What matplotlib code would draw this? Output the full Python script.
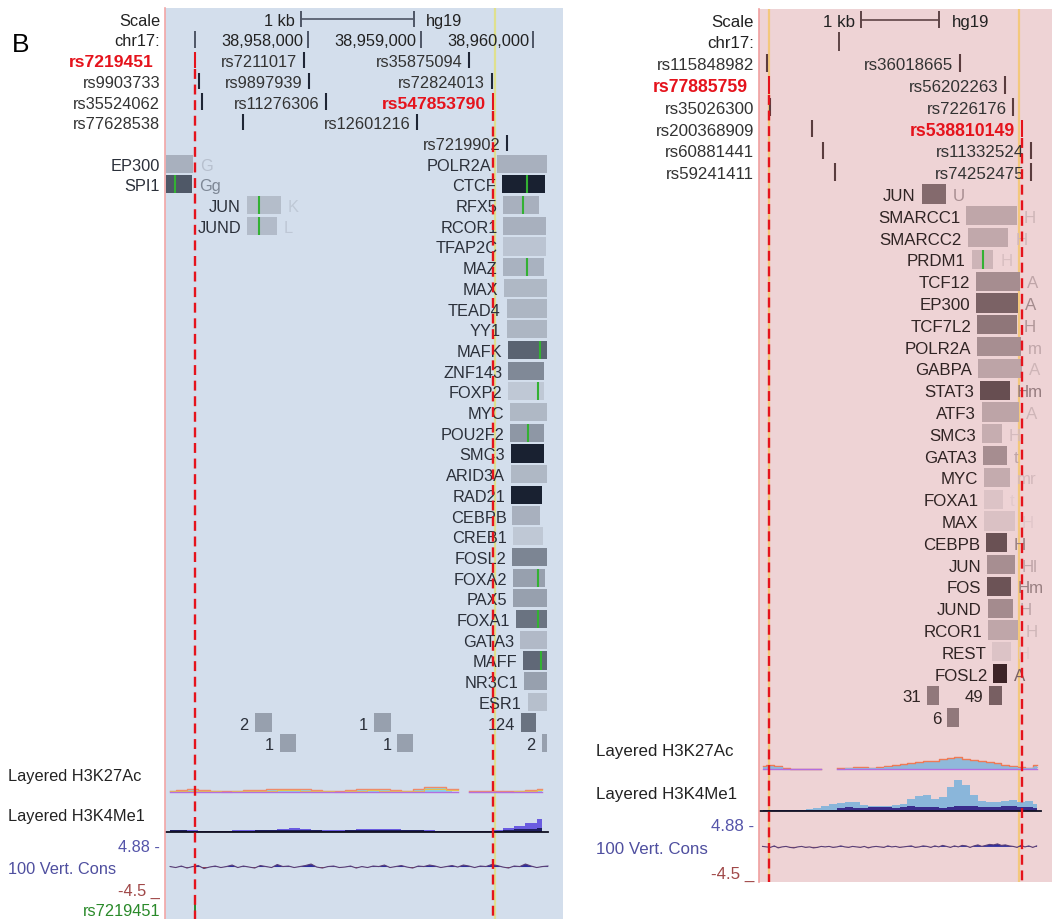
"""
Two UCSC-style browser views of chr17 (hg19) with SNPs, ChIP clusters and tracks
"""
import numpy as np
import matplotlib
matplotlib.use("Agg")
from matplotlib import pyplot as plt, transforms
from matplotlib.colors import to_rgb

plt.rcParams["font.family"] = ["Liberation Sans", "DejaVu Sans"]

W, H = 1057, 920
NAN = np.nan

# ---------------- left view ----------------
L_XLIM = (38956735, 38960263)
L_CHR_TICKS = [38957000, 38958000, 38959000, 38960000]
L_CHR_LABELS = ["", "38,958,000", "38,959,000", "38,960,000"]
L_SCALE_BAR = (38957940, 38958940)

L_SNP_ROWS = [
    ["rs7219451", "rs7211017", "rs35875094"],
    ["rs9903733", "rs9897939", "rs72824013"],
    ["rs35524062", "rs11276306", "rs547853790"],
    ["rs77628538", "rs12601216"],
    ["rs7219902"],
]
L_SNP_POS = [
    [38956997, 38957964, 38959430],
    [38957036, 38958012, 38959630],
    [38957067, 38958162, 38959640],
    [38957424, 38958969],
    [38959767],
]
L_SNP_MARGIN = ["rs7219451", "rs9903733", "rs35524062", "rs77628538"]
L_SNP_HIGHLIGHT = ["rs7219451", "rs547853790"]
L_TOUCH = 38959660

L_TF_NAME = ["EP300", "SPI1", "JUN", "JUND",
             "POLR2A", "CTCF", "RFX5", "RCOR1", "TFAP2C", "MAZ", "MAX", "TEAD4", "YY1",
             "MAFK", "ZNF143", "FOXP2", "MYC", "POU2F2", "SMC3", "ARID3A", "RAD21", "CEBPB",
             "CREB1", "FOSL2", "FOXA2", "PAX5", "FOXA1", "GATA3", "MAFF", "NR3C1", "ESR1"]
L_TF_ROW = [0, 1, 2, 3] + list(range(27))
L_TF_START = [38956740, 38956740, 38957459, 38957459,
              38959676, 38959720, 38959734, 38959734, 38959734, 38959734, 38959743, 38959764,
              38959764, 38959778, 38959778, 38959778, 38959793, 38959793, 38959800, 38959802,
              38959800, 38959814, 38959817, 38959814, 38959823, 38959823, 38959847, 38959882,
              38959906, 38959918, 38959950]
L_TF_END = [38956986, 38956972, 38957761, 38957725,
            38960119, 38960104, 38960051, 38960110, 38960110, 38960095, 38960119, 38960119,
            38960119, 38960119, 38960095, 38960095, 38960119, 38960095, 38960098, 38960119,
            38960074, 38960059, 38960083, 38960119, 38960104, 38960119, 38960119, 38960119,
            38960119, 38960119, 38960119]
L_TF_SCORE = [0.18, 0.67, 0.11, 0.12,
              0.18, 0.97, 0.18, 0.18, 0.07, 0.17, 0.14, 0.15, 0.15, 0.61, 0.40, 0.05,
              0.14, 0.32, 0.97, 0.14, 0.97, 0.18, 0.05, 0.42, 0.27, 0.27, 0.52, 0.13,
              0.58, 0.27, 0.10]
L_TF_TAIL = ["G", "Gg", "K", "L"] + [""] * 27
L_TF_GREEN = [None, 38956824, 38957571, 38957571,
              None, 38959941, 38959906, None, None, 38959941, None, None, None,
              38960059, None, 38960044, None, 38959950, None, None, None, None,
              None, None, 38960044, None, 38960044, None, 38960066, None, None]

L_CL_LABEL = ["2", "1", "124", "1", "1", "2"]
L_CL_ROW = [0, 0, 0, 1, 1, 1]
L_CL_START = [38957530, 38958588, 38959888, 38957754, 38958794, 38960074]
L_CL_END = [38957683, 38958738, 38960024, 38957900, 38958936, 38960119]
L_CL_SCORE = [0.27, 0.27, 0.52, 0.27, 0.27, 0.27]

# signal tracks (fixed step bins, heights in pixels of the browser image)
L_SIG_START, L_SIG_STEP = 38956780, 100
L_K27 = [1, 1.5, 2.5, 2, 1, 0.5, 1, 1.5, 2, 2.5, 3, 3, 2.5, 2, 1, 0.5, 1.5,
         2.5, 3, 2.5, 1.5, 1, 2.5, 4.5, 5, 3, NAN, 0.5, 0.5, 0.5, 0.5, 1, 2, 3]
L_K4 = [2, 2, 1.5, 1, 1, 1, 1.5, 1.5, 2, 2, 2.5, 3.5, 3, 2, 1.5, 1.5, 2,
        2.5, 3, 3, 2.5, 2, 2, 1.5, 1, 0.5, 0.5, 0.5, 0.5, 2, 4, 6, 9, 13]
L_K4_DARK = [1.5, 1.5, 1, 1, 1, 1, 1, 1, 1.5, 1.5, 1.5, 2, 2, 1.5, 1, 1, 1.5,
             1.5, 2, 2, 1.5, 1.5, 1.5, 1, 1, 0.5, 0.5, 0.5, 0.5, 1, 2, 2.5, 3, 4]
L_CONS_STEP = 50
L_CONS = [0.5, -0.5, 1, -1, 0.5, 1.5, -1.5, 0, 1, -0.5, 0.5, 2, -0.5, 1, 0, -1, 1.5,
          0.5, -0.5, 2.5, 0.5, 1, -0.5, 0.5, 1.5, 3, 0, -1, 0.5, 1, -0.5, 0, 1, -1,
          0.5, -0.5, 1, 0.5, 2, -0.5, 0.5, 1.5, 0, -1, 1, 0.5, 2, 1, -0.5, 0.5, 1.5,
          0, 2, 1, -0.5, 1, 0.5, 2.5, 1.5, 0, -1, 1, 0.5, 3, 1, -0.5, 0.5, 1]
L_MARK = ("rs7219451", 38956997)

# ---------------- right view (positions relative to the chr17 tick) ----------------
R_XLIM = (-1025, 2716)
R_CHR_TICKS = [0]
R_SCALE_BAR = (277, 1277)

R_SNP_ROWS = [
    ["rs115848982", "rs36018665"],
    ["rs77885759", "rs56202263"],
    ["rs35026300", "rs7226176"],
    ["rs200368909", "rs538810149"],
    ["rs60881441", "rs11332524"],
    ["rs59241411", "rs74252475"],
]
R_SNP_POS = [
    [-923, 1541],
    [-894, 2116],
    [-885, 2222],
    [-352, 2329],
    [-212, 2444],
    [-55, 2444],
]
R_SNP_MARGIN = ["rs115848982", "rs77885759", "rs35026300", "rs200368909",
                "rs60881441", "rs59241411"]
R_SNP_HIGHLIGHT = ["rs77885759", "rs538810149"]
R_TOUCH = [-898, 2299]

R_TF_NAME = ["JUN", "SMARCC1", "SMARCC2", "PRDM1", "TCF12", "EP300", "TCF7L2", "POLR2A",
             "GABPA", "STAT3", "ATF3", "SMC3", "GATA3", "MYC", "FOXA1", "MAX", "CEBPB",
             "JUN", "FOS", "JUND", "RCOR1", "REST", "FOSL2"]
R_TF_START = [1052, 1618, 1640, 1691, 1746, 1746, 1762, 1762, 1775, 1797, 1819, 1819,
              1831, 1852, 1852, 1852, 1874, 1883, 1883, 1895, 1903, 1954, 1967]
R_TF_END = [1363, 2266, 2158, 1967, 2308, 2286, 2266, 2317, 2330, 2180, 2299, 2074,
            2138, 2180, 2087, 2244, 2138, 2244, 2189, 2215, 2286, 2189, 2138]
R_TF_SCORE = [0.55, 0.20, 0.19, 0.12, 0.35, 0.60, 0.48, 0.34, 0.21, 0.72, 0.21, 0.16,
              0.35, 0.17, 0.03, 0.04, 0.70, 0.34, 0.69, 0.36, 0.20, 0.03, 0.97]
R_TF_TAIL = ["U", "H", "H", "H", "A", "A", "H", "m", "A", "Hm", "A", "H", "t", "mr",
             "t", "H", "H", "Hl", "Hm", "H", "H", "H", "A"]
R_TF_GREEN = [None, None, None, 1839] + [None] * 19

R_CL_LABEL = ["31", "49", "6"]
R_CL_ROW = [0, 0, 1]
R_CL_START = [1116, 1916, 1379]
R_CL_END = [1273, 2074, 1533]
R_CL_SCORE = [0.47, 0.62, 0.47]

R_SIG_START, R_SIG_STEP = -980, 100
R_K27 = [3, 4, 3, 1, 0.5, 0.5, 0.5, 0.5, NAN, NAN, 1, 1.5, 2.5, 2, 1.5, 2, 3, 4,
         5, 6, 7, 8, 8, 10, 11, 12, 10, 9, 8, 7, 6, 4, 3, 2, 1.5, 4]
R_K4 = [1, 0.5, 0.5, 0.5, 0.5, 1, 2, 3, 5, 7, 8, 9, 9, 6, 5, 5, 5, 6,
        7, 12, 15, 16, 12, 14, 24, 31, 26, 16, 10, 9, 9, 10, 11, 9, 10, 7]
R_K4_DARK = [1, 1, 1, 1, 1, 1, 1, 1, 1, 1, 3, 4, 3, 3, 4, 4, 4, 3,
             4, 5, 4, 4, 4, 3, 4, 5, 5, 5, 4, 4, 4, 5, 5, 4, 4, 3]
R_CONS_STEP = 50
R_CONS = [0.5, 0, -0.5, 1, -1, 0, 0.5, -0.5, -1, 0, 0.5, -0.5, 0, -1, -0.5, 0.5, 0,
          0.5, -0.5, 0, 1, 0, -0.5, 0.5, 0, -0.5, 0.5, -1, 0, 0.5, 0, -0.5, 1, 0, 0.5,
          -0.5, 0, 0.5, 1, -0.5, 0, 1, 0.5, -0.5, 1, 0, 1.5, 0.5, -0.5, 1, 0, 1.5, 1,
          -0.5, 1, 2, 0.5, 1.5, 2.5, 2, 3, 1.5, 2, 1, 0.5, -0.5, 1.5, 0, 1, -0.5, 1]


def shade(score, light, dark):
    l = np.array(to_rgb(light))
    d = np.array(to_rgb(dark))
    return tuple(l + (d - l) * score)


def blend(c, bg, t):
    return tuple(np.array(c) * (1 - t) + np.array(to_rgb(bg)) * t)


def margin_text(ax, row, text, fs, color="#222222", weight="normal", pad=3.6):
    ax.annotate(text, xy=(0, row), xycoords=ax.get_yaxis_transform(),
                xytext=(-pad, 0), textcoords="offset points", ha="right",
                va="center_baseline", fontsize=fs, color=color, fontweight=weight,
                annotation_clip=False)


def side_text(fig, ax, x_px, row, text, fs, color="#222222"):
    tr = transforms.blended_transform_factory(fig.transFigure, ax.transData)
    ax.text(x_px / W, row, text, transform=tr, ha="left", va="center_baseline",
            fontsize=fs, color=color, clip_on=False)


def item_label(ax, x, row, text, fs, color, side="left", weight="normal", pad=4.2):
    ax.annotate(text, xy=(x, row), xytext=(-pad if side == "left" else pad, 0),
                textcoords="offset points", ha="right" if side == "left" else "left",
                va="center_baseline", fontsize=fs, color=color, fontweight=weight,
                annotation_clip=False, zorder=3)


def draw_view(fig, ax, v):
    fs = v["fs"]
    ax.set_facecolor(v["bg"])
    ax.set_xlim(*v["xlim"])
    ax.set_ylim(*v["ylim"])
    ax.set_xticks([])
    ax.set_yticks([])
    for s in ["top", "right", "bottom"]:
        ax.spines[s].set_visible(False)
    ax.spines["left"].set_color(v["edge"])
    ax.spines["left"].set_linewidth(1.2)
    rows = v["rows"]
    ink = v["ink"]

    for x in v["touch"]:
        ax.axvline(x, color=v["touch_color"], lw=1.6, zorder=1)

    # scale bar
    r = rows["scale"]
    b0, b1 = v["scale_bar"]
    ax.plot([b0, b1], [r, r], color=ink, lw=1.2, zorder=2)
    ax.vlines([b0, b1], r - 0.38, r + 0.38, color=ink, lw=1.4, zorder=2)
    margin_text(ax, r, "Scale", fs)
    item_label(ax, b0, r, "1 kb", fs, "#222222", pad=4.5)
    item_label(ax, b1, r, "hg19", fs, "#222222", side="right", pad=9)

    # chromosome ruler
    r = rows["chr"]
    margin_text(ax, r, "chr17:", fs)
    ax.vlines(v["chr_ticks"], r - 0.42, r + 0.42, color=ink, lw=1.4, zorder=2)
    for t, lab in zip(v["chr_ticks"], v["chr_labels"]):
        if lab:
            item_label(ax, t, r, lab, fs, "#222222", pad=3)

    # SNPs
    for i, (names, poss) in enumerate(zip(v["snp_rows"], v["snp_pos"])):
        r = rows["snp"] + i
        for name, pos in zip(names, poss):
            hi = name in v["snp_hi"]
            col = "#e5131c" if hi else v["snp_color"]
            ax.vlines(pos, r - 0.4, r + 0.4, color=col, lw=1.5, zorder=3)
            tcol = "#e5131c" if hi else "#333333"
            wt = "bold" if hi else "normal"
            size = v["fs_bold"] if hi else fs
            if name in v["snp_margin"]:
                margin_text(ax, r, name, size, tcol, wt, pad=8 if hi else 3.6)
            else:
                item_label(ax, pos, r, name, size, tcol, weight=wt, pad=4.6)
            if hi:
                ax.plot([pos, pos], [r + 0.45, v["ylim"][0]], color="#e5131c", lw=1.7,
                        ls=(0, (4.2, 2.4)), zorder=6)

    # TF binding clusters and unlabeled clusters
    def boxes(names, starts, ends, scores, rws, row0, tails, greens, height):
        cols = [shade(s, v["light"], v["dark"]) for s in scores]
        ys = [row0 + k for k in rws]
        ax.barh(ys, np.subtract(ends, starts), left=starts, height=height,
                color=cols, zorder=2)
        for k in range(len(names)):
            item_label(ax, starts[k], ys[k], names[k], fs, v["label_color"])
            if tails and tails[k]:
                item_label(ax, ends[k], ys[k], tails[k], fs,
                           blend(cols[k], v["bg"], 0.35), side="right", pad=5)
            if greens and greens[k] is not None:
                ax.vlines(greens[k], ys[k] - height / 2, ys[k] + height / 2,
                          color="#33b133", lw=1.5, zorder=3)

    boxes(v["tf_name"], v["tf_start"], v["tf_end"], v["tf_score"], v["tf_row"],
          rows["tf"], v["tf_tail"], v["tf_green"], 0.88)
    boxes(v["cl_label"], v["cl_start"], v["cl_end"], v["cl_score"], v["cl_row"],
          rows["cl"], None, None, 0.88)

    # histone tracks
    px = 1.0 / v["row_px"]
    x = v["sig_start"] + v["sig_step"] * np.arange(len(v["k27"]))
    base = rows["k27"]
    k27 = np.array(v["k27"], dtype=float)
    ax.fill_between(x, base, base - k27 * px, step="mid", color=v["k27_fill"],
                    lw=0, zorder=2)
    ax.step(x, base - k27 * px, where="mid", color=v["k27_line"], lw=1.0, zorder=2)
    ax.step(x, base - 0.55 * k27 * px, where="mid", color=v["k27_mid"], lw=0.8,
            zorder=2)
    ax.step(x, base - np.where(np.isnan(k27), np.nan, 0.3) * px, where="mid",
            color="#b36ee0", lw=1.0, zorder=2)
    side_text(fig, ax, v["label_x"], rows["k27_lab"], "Layered H3K27Ac", fs)

    base = rows["k4"]
    ax.fill_between(x, base, base - np.array(v["k4"]) * px, step="mid",
                    color=v["k4_fill"], lw=0, zorder=2)
    ax.fill_between(x, base, base - np.array(v["k4_dark"]) * px, step="mid",
                    color=v["k4_dark_color"], lw=0, zorder=2)
    ax.plot([x[0] - v["sig_step"] / 2, x[-1] + v["sig_step"] / 2], [base, base],
            color="#111122", lw=1.3, zorder=2)
    side_text(fig, ax, v["label_x"], rows["k4_lab"], "Layered H3K4Me1", fs)

    # conservation
    base = rows["cons"]
    xc = v["sig_start"] + v["cons_step"] * np.arange(len(v["cons"]))
    cons = np.array(v["cons"], dtype=float)
    yc = base - cons * px
    ax.fill_between(xc, base, yc, where=cons >= 0, interpolate=True,
                    color="#2e2e9e", lw=0, zorder=2)
    ax.fill_between(xc, base, yc, where=cons < 0, interpolate=True,
                    color="#a03a3a", lw=0, zorder=2)
    ax.plot(xc, yc, color="#5a3f76", lw=0.8, zorder=2)
    margin_text(ax, rows["cons_top"], "4.88 -", fs, "#5555aa")
    side_text(fig, ax, v["label_x"], rows["cons"], "100 Vert. Cons", fs, "#4f4f9f")
    margin_text(ax, rows["cons_bot"], "-4.5 _", fs, "#a04848")


fig = plt.figure(figsize=(W / 100, H / 100), dpi=100)
fig.patch.set_facecolor("white")

ax_l = fig.add_axes([165 / W, 0, 398 / W, 911 / H])
ax_r = fig.add_axes([759 / W, 37 / H, 293 / W, 873 / H])

left = dict(
    xlim=L_XLIM, ylim=(43.49, -0.517), row_px=20.7, fs=11.8, fs_bold=12.6,
    bg="#d3deec", edge="#f2a6a6", ink="#4e5666", snp_color="#1f2636",
    label_color="#2b303a", light="#c8d1de", dark="#141c2c",
    touch=[L_TOUCH], touch_color="#dfe08e", label_x=8,
    rows=dict(scale=0, chr=1, snp=2, tf=7, cl=34, k27_lab=36.5, k27=37.35,
              k4_lab=38.4, k4=39.27, cons_top=39.9, cons=40.98, cons_bot=42.04),
    scale_bar=L_SCALE_BAR, chr_ticks=L_CHR_TICKS, chr_labels=L_CHR_LABELS,
    snp_rows=L_SNP_ROWS, snp_pos=L_SNP_POS, snp_margin=L_SNP_MARGIN,
    snp_hi=L_SNP_HIGHLIGHT,
    tf_name=L_TF_NAME, tf_start=L_TF_START, tf_end=L_TF_END, tf_score=L_TF_SCORE,
    tf_row=L_TF_ROW, tf_tail=L_TF_TAIL, tf_green=L_TF_GREEN,
    cl_label=L_CL_LABEL, cl_start=L_CL_START, cl_end=L_CL_END, cl_score=L_CL_SCORE,
    cl_row=L_CL_ROW,
    sig_start=L_SIG_START, sig_step=L_SIG_STEP, k27=L_K27, k4=L_K4, k4_dark=L_K4_DARK,
    k27_fill="#86d4ea", k27_line="#f08a6a", k27_mid="#e6c24a",
    k4_fill="#6a5ce0", k4_dark_color="#1e1e60",
    cons_step=L_CONS_STEP, cons=L_CONS,
)
right = dict(
    xlim=R_XLIM, ylim=(39.56, -0.486), row_px=21.8, fs=12.2, fs_bold=12.7,
    bg="#eed3d5", edge="#f0a0a0", ink="#5e4446", snp_color="#5a3c3e",
    label_color="#302424", light="#e1c8cb", dark="#371e21",
    touch=R_TOUCH, touch_color="#f3c87c", label_x=596,
    rows=dict(scale=0, chr=1, snp=2, tf=8, cl=31, k27_lab=33.46, k27=34.38,
              k4_lab=35.42, k4=36.32, cons_top=36.9, cons=37.95, cons_bot=39.09),
    scale_bar=R_SCALE_BAR, chr_ticks=R_CHR_TICKS, chr_labels=[""],
    snp_rows=R_SNP_ROWS, snp_pos=R_SNP_POS, snp_margin=R_SNP_MARGIN,
    snp_hi=R_SNP_HIGHLIGHT,
    tf_name=R_TF_NAME, tf_start=R_TF_START, tf_end=R_TF_END, tf_score=R_TF_SCORE,
    tf_row=list(range(len(R_TF_NAME))), tf_tail=R_TF_TAIL, tf_green=R_TF_GREEN,
    cl_label=R_CL_LABEL, cl_start=R_CL_START, cl_end=R_CL_END, cl_score=R_CL_SCORE,
    cl_row=R_CL_ROW,
    sig_start=R_SIG_START, sig_step=R_SIG_STEP, k27=R_K27, k4=R_K4, k4_dark=R_K4_DARK,
    k27_fill="#8fb9da", k27_line="#ef7a55", k27_mid="#8fb9da",
    k4_fill="#8ab6da", k4_dark_color="#3a2c8c",
    cons_step=R_CONS_STEP, cons=R_CONS,
)

draw_view(fig, ax_l, left)
draw_view(fig, ax_r, right)

# green SNP mark under the left view
name, pos = L_MARK
ax_l.vlines(pos, 42.6, 43.49, color="#2a8a2a", lw=1.4, zorder=3)
margin_text(ax_l, 43.0, name, 11.8, "#2a8a2a")

fig.text(21 / W, 1 - 45 / H, "B", fontsize=19, ha="center", va="center", color="black")

fig.savefig("out.png", dpi=100, facecolor="white")
